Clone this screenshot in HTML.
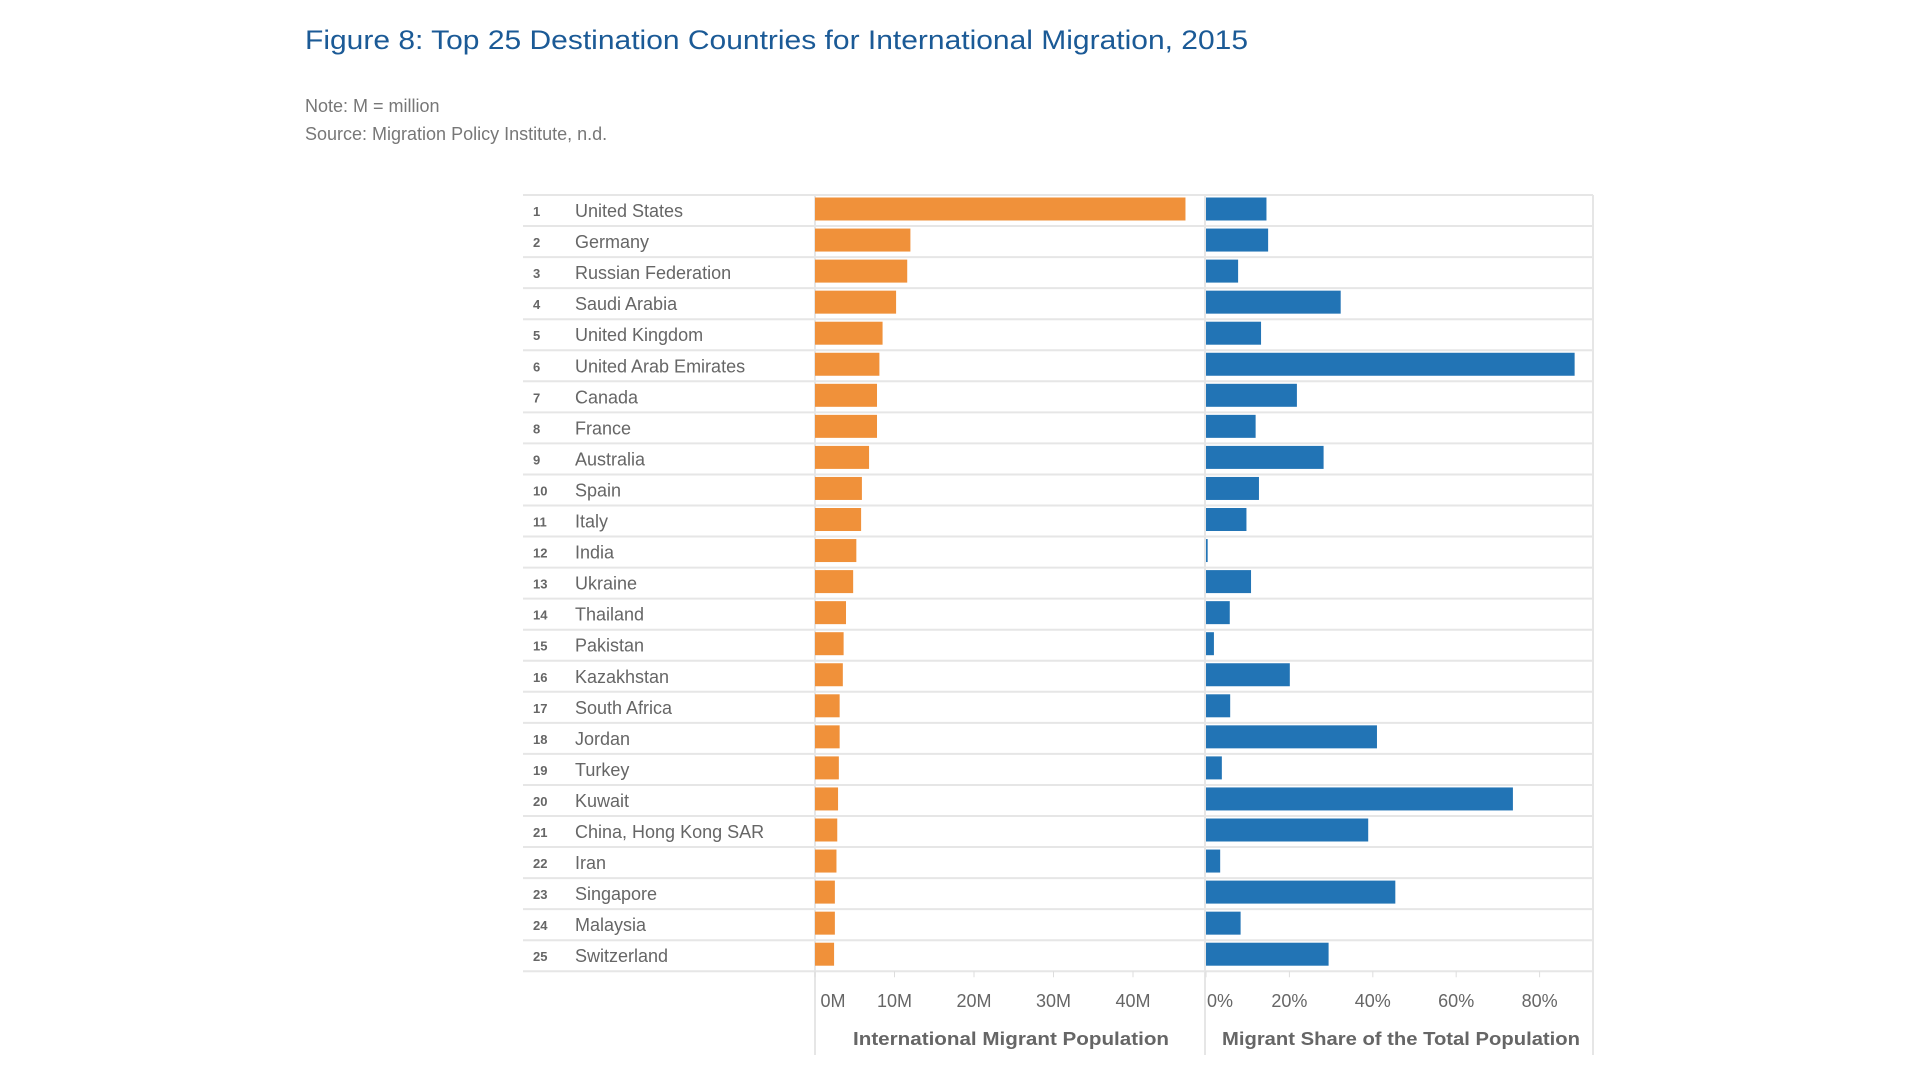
<!DOCTYPE html>
<html><head><meta charset="utf-8"><style>
html,body{margin:0;padding:0;background:#fff;width:1920px;height:1080px;overflow:hidden}
svg{display:block}
</style></head><body>
<svg id="chart" width="1920" height="1080" xmlns="http://www.w3.org/2000/svg" font-family="Liberation Sans, sans-serif">
<text x="305" y="49" font-size="27" fill="#1b5a96" textLength="943" lengthAdjust="spacingAndGlyphs">Figure 8: Top 25 Destination Countries for International Migration, 2015</text>
<text x="305" y="112" font-size="18" fill="#777">Note: M = million</text>
<text x="305" y="140" font-size="18" fill="#777">Source: Migration Policy Institute, n.d.</text>
<g id="grid"></g>
<g id="rows"></g>
<g id="axes"></g>
</svg>
<script>
const countries = ["United States","Germany","Russian Federation","Saudi Arabia","United Kingdom","United Arab Emirates","Canada","France","Australia","Spain","Italy","India","Ukraine","Thailand","Pakistan","Kazakhstan","South Africa","Jordan","Turkey","Kuwait","China, Hong Kong SAR","Iran","Singapore","Malaysia","Switzerland"];
const migrantPop = [46.6,12.0,11.6,10.2,8.5,8.1,7.8,7.8,6.8,5.9,5.8,5.2,4.8,3.9,3.6,3.5,3.1,3.1,3.0,2.9,2.8,2.7,2.5,2.5,2.4];
const migrantShare = [14.5,14.9,7.7,32.3,13.2,88.4,21.8,11.9,28.2,12.7,9.7,0.4,10.8,5.7,1.9,20.1,5.8,41.0,3.8,73.6,38.9,3.4,45.4,8.3,29.4];
const popTicks = [0,10,20,30,40];
const popTickLabels = ["0M","10M","20M","30M","40M"];
const shareTicks = [0,20,40,60,80];
const shareTickLabels = ["0%","20%","40%","60%","80%"];

const NS="http://www.w3.org/2000/svg";
const tableL=523, tableR=1593, top0=195, pitch=31.05;
const popX0=815, popScale=7.95, shareX0=1206, shareScale=4.17;
const xPop=v=>popX0+v*popScale, xShare=v=>shareX0+v*shareScale;
const rowY=i=>top0+i*pitch;
function mk(tag,attrs,parent){const e=document.createElementNS(NS,tag);for(const k in attrs)e.setAttribute(k,attrs[k]);parent.appendChild(e);return e;}
const grid=document.getElementById('grid'), rows=document.getElementById('rows'), axes=document.getElementById('axes');
const bottom=rowY(countries.length);
for(let i=0;i<=countries.length;i++){
  const l=mk('line',{x1:tableL,x2:tableR,y1:rowY(i),y2:rowY(i),stroke:'#e6e6e6','stroke-width':2},grid);
  
  
}
[popX0,shareX0-1,tableR].forEach(x=>{
  const l=mk('line',{x1:x,x2:x,y1:top0,y2:1055,stroke:'#e6e6e6','stroke-width':2},grid);
  
  
});
countries.forEach((c,i)=>{
  const y=rowY(i);
  const g=mk('g',{},rows);
  
  
  const n=mk('text',{x:533,y:y+21,'font-size':13,'font-weight':'bold',fill:'#666'},g);n.textContent=String(i+1);
  
  
  const t=mk('text',{x:575,y:y+22,'font-size':18,fill:'#666'},g);t.textContent=c;
  
  
  const b1=mk('rect',{x:popX0,y:y+2.5,width:Math.max(0,xPop(migrantPop[i])-popX0),height:23,fill:'#f0913a'},g);
  
  
  const b2=mk('rect',{x:shareX0,y:y+2.5,width:Math.max(0,xShare(migrantShare[i])-shareX0),height:23,fill:'#2274b5'},g);
  
  
});
popTicks.forEach((v,i)=>{
  const x=xPop(v);
  const tk=mk('line',{x1:x,x2:x,y1:bottom,y2:bottom+6,stroke:'#ddd','stroke-width':1},axes);
  
  
  const t=mk('text',{x:x+(i==0?18:0),y:1007,'font-size':18,fill:'#666','text-anchor':'middle'},axes);t.textContent=popTickLabels[i];
  
  
});
shareTicks.forEach((v,i)=>{
  const x=xShare(v);
  const tk=mk('line',{x1:x,x2:x,y1:bottom,y2:bottom+6,stroke:'#ddd','stroke-width':1},axes);
  
  
  const t=mk('text',{x:x+(i==0?14:0),y:1007,'font-size':18,fill:'#666','text-anchor':'middle'},axes);t.textContent=shareTickLabels[i];
  
  
});
const a1=mk('text',{x:853,y:1045,'font-size':18,'font-weight':'bold',fill:'#666',textLength:316,lengthAdjust:'spacingAndGlyphs'},axes);a1.textContent='International Migrant Population';


const a2=mk('text',{x:1222,y:1045,'font-size':18,'font-weight':'bold',fill:'#666',textLength:358,lengthAdjust:'spacingAndGlyphs'},axes);a2.textContent='Migrant Share of the Total Population';


</script>
</body></html>
